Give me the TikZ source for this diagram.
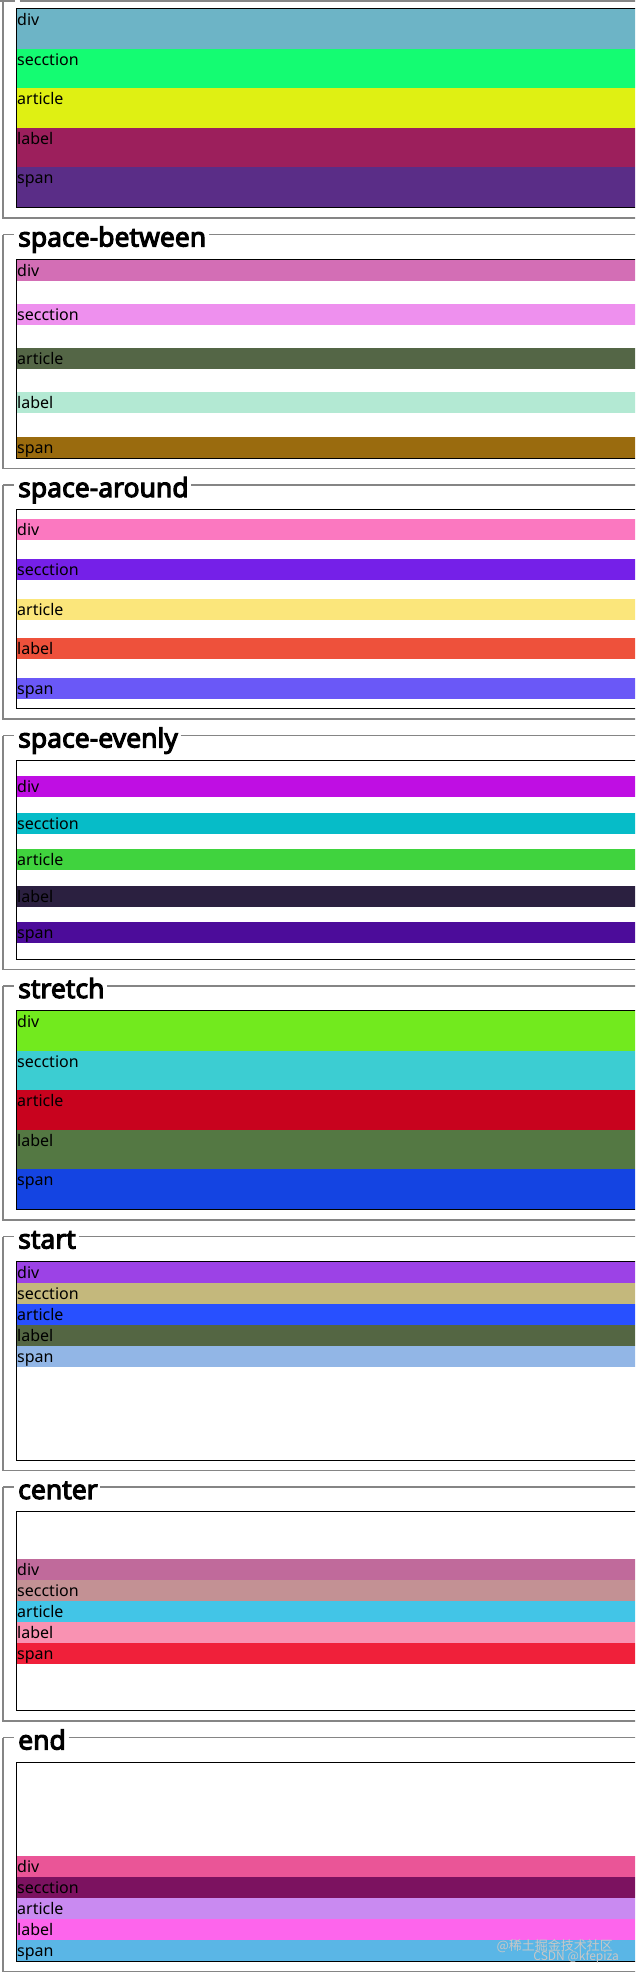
\documentclass[tikz,border=0pt]{standalone}
\usepackage{fontspec}
\setmainfont{Noto Sans}
\newfontfamily\legendfont{Noto Sans}[FakeBold=4]
\newfontfamily\cjkfont{Noto Sans CJK SC}
\usetikzlibrary{calc}

\definecolor{fsgray}{HTML}{858585}
\definecolor{k0a}{HTML}{6DB4C6}\definecolor{k0b}{HTML}{14FC72}\definecolor{k0c}{HTML}{DFF013}\definecolor{k0d}{HTML}{9C1F5C}\definecolor{k0e}{HTML}{5A2D87}
\definecolor{k1a}{HTML}{D36EB5}\definecolor{k1b}{HTML}{EE90EE}\definecolor{k1c}{HTML}{546646}\definecolor{k1d}{HTML}{B3E9D3}\definecolor{k1e}{HTML}{9A6B0E}
\definecolor{k2a}{HTML}{FB78C0}\definecolor{k2b}{HTML}{7520E8}\definecolor{k2c}{HTML}{FBE67B}\definecolor{k2d}{HTML}{EE513B}\definecolor{k2e}{HTML}{6A58F7}
\definecolor{k3a}{HTML}{BF0EE3}\definecolor{k3b}{HTML}{06BCC8}\definecolor{k3c}{HTML}{40D33E}\definecolor{k3d}{HTML}{2B2040}\definecolor{k3e}{HTML}{4C0C9A}
\definecolor{k4a}{HTML}{72EA1E}\definecolor{k4b}{HTML}{3CCDD2}\definecolor{k4c}{HTML}{C8031E}\definecolor{k4d}{HTML}{547843}\definecolor{k4e}{HTML}{1444E2}
\definecolor{k5a}{HTML}{9C42E6}\definecolor{k5b}{HTML}{C4B87C}\definecolor{k5c}{HTML}{2850FF}\definecolor{k5d}{HTML}{546643}\definecolor{k5e}{HTML}{92B6E6}
\definecolor{k6a}{HTML}{C06A9B}\definecolor{k6b}{HTML}{C39194}\definecolor{k6c}{HTML}{42C5E7}\definecolor{k6d}{HTML}{F992B2}\definecolor{k6e}{HTML}{F0203A}
\definecolor{k7a}{HTML}{EA5597}\definecolor{k7b}{HTML}{7C1260}\definecolor{k7c}{HTML}{C98AF1}\definecolor{k7d}{HTML}{FD65EC}\definecolor{k7e}{HTML}{5AB6E6}

\tikzset{
  fsline/.style={draw=fsgray, line width=1.8pt},
  boxline/.style={draw=black, line width=1pt},
  itemtext/.style={anchor=base west, inner sep=0pt, text=black, font=\fontsize{16}{16}\selectfont},
  legendtext/.style={anchor=base west, inner sep=0pt, text=black, font=\legendfont\fontsize{26.5}{26.5}\selectfont},
  wmtext/.style={anchor=base east, inner sep=0pt, text=black!22}
}

% #1 index, #2 offset, #3 pitch, #4 item height, #5 colour prefix
\newcommand{\fbody}[5]{%
  \pgfmathsetmacro{\fsT}{8+250.5*#1}
  \foreach \i/\t/\s in {0/div/a,1/secction/b,2/article/c,3/label/d,4/span/e}{
    \pgfmathsetmacro{\yy}{\fsT+1+#2+#3*\i}
    \fill[fill=#5\s] (17,\yy) rectangle (640,{\yy+#4});
    \node[itemtext] (it#1\s) at (17,{\yy+16.5}) {\t};
  }
  \draw[boxline] (16.5,{\fsT+0.5}) rectangle (640,{\fsT+199.5});
  \draw[fsline] (3,{\fsT-24}) -- (3,{\fsT+210}) -- (640,{\fsT+210});
}
% #1 index, #2 legend
\newcommand{\flegend}[2]{%
  \pgfmathsetmacro{\fsT}{8+250.5*#1}
  \node[legendtext] (lg#1) at (18,{\fsT-12}) {#2};
  \draw[fsline] (3,{\fsT-24}) -- (14,{\fsT-24});
  \draw[fsline] ($(lg#1.base east)+(2.5,-12)$) -- (640,{\fsT-24});
}

\begin{document}
\begin{tikzpicture}[x=1pt,y=-1pt]
\useasboundingbox (0,0) rectangle (635,1973);
\clip (0,0) rectangle (635,1973);
\fill[white] (0,0) rectangle (635,1973);

\draw[fsline] (0,0.7) -- (15,0.7);
\draw[fsline] (19.5,0.7) -- (640,0.7);

\fbody{0}{0}{39.6}{39.6}{k0}
\fbody{1}{0}{44.25}{21}{k1}\flegend{1}{space-between}
\fbody{2}{9.3}{39.6}{21}{k2}\flegend{2}{space-around}
\fbody{3}{15.5}{36.5}{21}{k3}\flegend{3}{space-evenly}
\fbody{4}{0}{39.6}{39.6}{k4}\flegend{4}{stretch}
\fbody{5}{0}{21}{21}{k5}\flegend{5}{start}
\fbody{6}{46.5}{21}{21}{k6}\flegend{6}{center}
\fbody{7}{93}{21}{21}{k7}\flegend{7}{end}

\node[wmtext, font=\cjkfont\fontsize{13}{13}\selectfont] (wm1) at (613,1950.5) {@稀土掘金技术社区};
\node[wmtext, font=\cjkfont\fontsize{12}{12}\selectfont] (wm2) at (619,1960.5) {CSDN @kfepiza};
\end{tikzpicture}
\end{document}
